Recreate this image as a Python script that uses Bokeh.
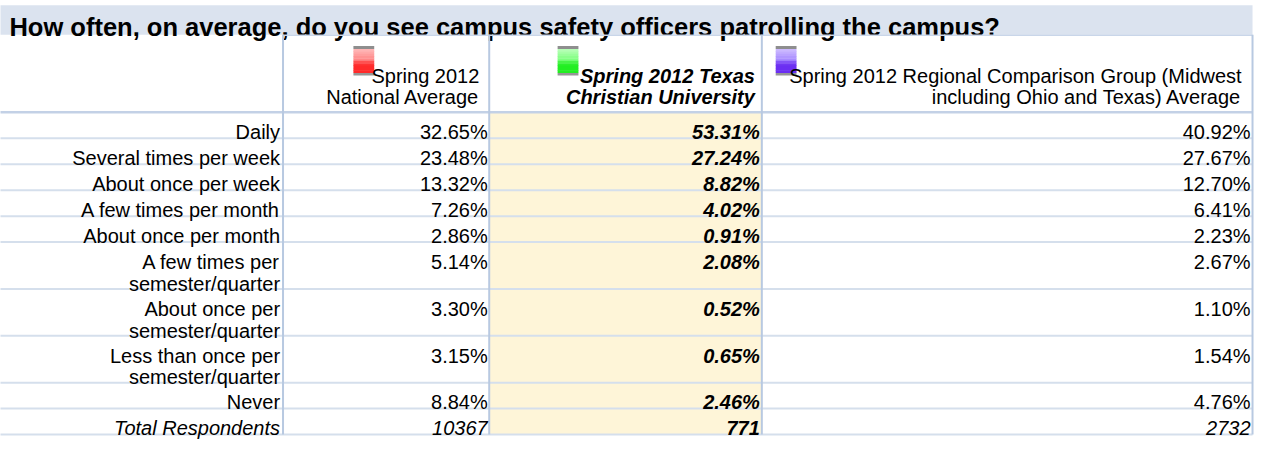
from bokeh.plotting import figure
from bokeh.models import Range1d
from bokeh.core.properties import value
from bokeh.embed import file_html
from bokeh.resources import INLINE

# ---------------- data ----------------
title = "How often, on average, do you see campus safety officers patrolling the campus?"
categories = [
    "Daily",
    "Several times per week",
    "About once per week",
    "A few times per month",
    "About once per month",
    "A few times per\nsemester/quarter",
    "About once per\nsemester/quarter",
    "Less than once per\nsemester/quarter",
    "Never",
]
total_label = "Total Respondents"
series_names = [
    "Spring 2012\nNational Average",
    "Spring 2012 Texas\nChristian University",
    "Spring 2012 Regional Comparison Group (Midwest\nincluding Ohio and Texas) Average",
]
national = [32.65, 23.48, 13.32, 7.26, 2.86, 5.14, 3.30, 3.15, 8.84]
tcu = [53.31, 27.24, 8.82, 4.02, 0.91, 2.08, 0.52, 0.65, 2.46]
regional = [40.92, 27.67, 12.70, 6.41, 2.23, 2.67, 1.10, 1.54, 4.76]
totals = [10367, 771, 2732]

# ---------------- styles / layout ----------------
FONT = value("Liberation Sans")
FS = "20px"
swatch_light = ["#ffb4b4", "#b4ffb4", "#cbb8ff"]
swatch_mid = ["#ff8282", "#78ff78", "#a486ff"]
swatch_dark = ["#ff2a2a", "#22ee22", "#6b2ef2"]
col_edges = [0, 290, 498, 773, 1268]
val_right = [496.5, 771, 1266]
head_right = [488, 766, 1257]
swatch_left = [361, 567, 787]
SW_W = 21
title_top, title_bottom = 9, 40
header_bottom = 121.7
single_h, double_h = 27.3, 49.3

p = figure(width=1255, height=441, x_range=Range1d(5, 1271), y_range=Range1d(468, 4),
           output_backend="svg", toolbar_location=None, min_border=0,
           x_axis_type=None, y_axis_type=None)
p.grid.visible = False
p.outline_line_color = None
p.background_fill_color = "white"
p.border_fill_color = "white"

# row geometry
nlines = [c.count("\n") + 1 for c in categories] + [1]
heights = [single_h if n == 1 else double_h for n in nlines]
tops = []
t = header_bottom
for h in heights:
    tops.append(t)
    t += h
table_bottom = t

# title band
p.quad(left=[col_edges[0]], right=[col_edges[-1]], top=[title_top], bottom=[title_bottom],
       fill_color="#dbe3ef", line_color=None)
p.text(x=[14], y=[31.8], text=[title], text_font=FONT, text_font_size="25.5px",
       text_font_style="bold", text_color="#000000", text_align="left", text_baseline="alphabetic")

# highlighted column
p.quad(left=[col_edges[2]], right=[col_edges[3]], top=[header_bottom], bottom=[table_bottom],
       fill_color="#fef5d8", line_color=None)

# horizontal row lines
ys = tops[1:] + [table_bottom]
p.segment(x0=[col_edges[0]] * len(ys), x1=[col_edges[-1]] * len(ys), y0=ys, y1=ys,
          line_color="#d5dfec", line_width=2)
p.segment(x0=[col_edges[0]], x1=[col_edges[-1]], y0=[header_bottom], y1=[header_bottom],
          line_color="#c3d1e6", line_width=2.5)
p.segment(x0=[col_edges[1]], x1=[col_edges[-1]], y0=[title_bottom + 0.5], y1=[title_bottom + 0.5],
          line_color="#c9d6e9", line_width=1.5)
# vertical lines
vx = col_edges[1:]
p.segment(x0=vx, x1=vx, y0=[title_bottom] * len(vx), y1=[table_bottom] * len(vx),
          line_color="#b8c9e1", line_width=2)


def mix(c1, c2, f):
    a = [int(c1[i:i + 2], 16) for i in (1, 3, 5)]
    b = [int(c2[i:i + 2], 16) for i in (1, 3, 5)]
    return "#%02x%02x%02x" % tuple(round(a[k] + (b[k] - a[k]) * f) for k in range(3))


# legend swatches (glossy)
sw_top, sw_bot = 52, 83
for s in range(3):
    l = swatch_left[s]
    r = l + SW_W
    lefts, rights, tps, bts, cols = [], [], [], [], []
    lefts += [l, l]; rights += [r, r]; tps += [sw_top, sw_bot - 3]; bts += [sw_top + 3, sw_bot]
    cols += ["#8e8e8e", "#969696"]
    n = 10
    y0, y1 = sw_top + 3, sw_bot - 3
    hh = (y1 - y0) / n
    for k in range(n):
        f = k / (n - 1)
        if k < n // 2:
            c = mix(swatch_light[s], swatch_mid[s], f * 2)
        else:
            c = mix(swatch_mid[s], swatch_dark[s], min(1.0, (f - 0.5) * 3 + 0.4))
        lefts.append(l); rights.append(r); tps.append(y0 + k * hh); bts.append(y0 + (k + 1) * hh + 0.3)
        cols.append(c)
    p.quad(left=lefts, right=rights, top=tps, bottom=bts, fill_color=cols, line_color=None)

# header texts
for s in range(3):
    lines = series_names[s].split("\n")
    style = "bold italic" if s == 1 else "normal"
    p.text(x=[head_right[s]] * len(lines), y=[83 + 22.5 * j for j in range(len(lines))], text=lines,
           text_font=FONT, text_font_size=FS, text_font_style=style, text_color="#000000",
           text_align="right", text_baseline="alphabetic")

# row labels
lx, ly, lt = [], [], []
for i, c in enumerate(categories):
    for j, line in enumerate(c.split("\n")):
        lx.append(287); ly.append(tops[i] + 20.8 + 23 * j); lt.append(line)
p.text(x=lx, y=ly, text=lt, text_font=FONT, text_font_size=FS, text_color="#000000",
       text_align="right", text_baseline="alphabetic")

# values
vy = [tops[i] + 20.8 for i in range(len(categories))]
for s, series in enumerate([national, tcu, regional]):
    p.text(x=[val_right[s]] * len(series), y=vy, text=["%.2f%%" % v for v in series],
           text_font=FONT, text_font_size=FS,
           text_font_style="bold italic" if s == 1 else "normal", text_color="#000000",
           text_align="right", text_baseline="alphabetic")

# total row
ty = tops[-1] + 20.8
p.text(x=[287], y=[ty], text=[total_label], text_font=FONT, text_font_size=FS,
       text_font_style="italic", text_color="#000000", text_align="right", text_baseline="alphabetic")
for s in range(3):
    p.text(x=[val_right[s]], y=[ty], text=[str(totals[s])], text_font=FONT, text_font_size=FS,
           text_font_style="bold italic" if s == 1 else "italic", text_color="#000000",
           text_align="right", text_baseline="alphabetic")

open("out.html", "w").write(file_html(p, INLINE))
